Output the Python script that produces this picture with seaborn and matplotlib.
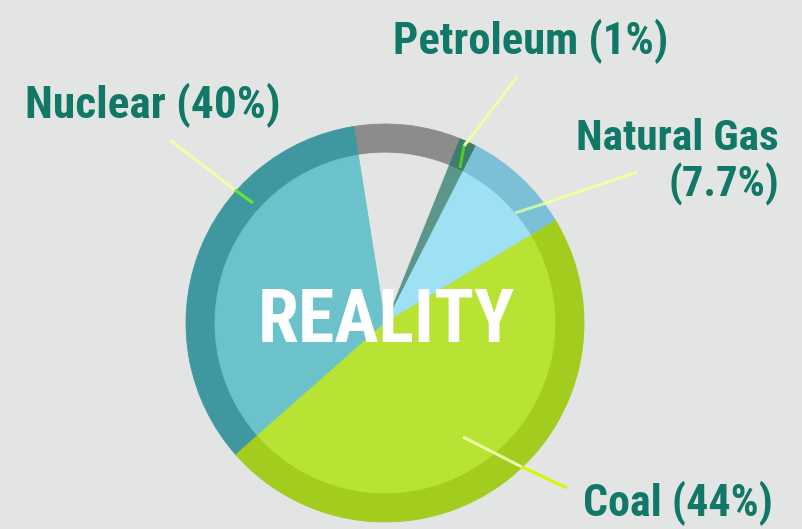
"""
Energy mix pie ("REALITY") - ring style pie with leader labels
"""
import matplotlib
matplotlib.use("Agg")
import matplotlib.pyplot as plt
from matplotlib import font_manager
import seaborn as sns

# ============================================================
#  Data (slice shares, counter-clockwise from 31 deg)
# ============================================================
sources = ["Natural Gas", "Petroleum", "Other", "Nuclear", "Coal"]
shares = [8.9, 1.4, 8.6, 34.0, 47.1]
label_pct = {"Natural Gas": "7.7%", "Petroleum": "1%", "Nuclear": "40%", "Coal": "44%"}

ring_colors = ["#7cc0d8", "#3e7c70", "#8c8c8c", "#3f97a0", "#a2cc1e"]
fill_colors = ["#9ee0f4", "#5c958a", "#e3e4e4", "#6cc2ca", "#b7e335"]

BG = "#e3e4e4"
TEXT = "#117868"
W, H = 802, 529
CX, CY, R_OUT, R_IN = 385, H - 323, 199, 170

sns.set_theme(style="white")
names = {f.name for f in font_manager.fontManager.ttflist}
FONT = next((f for f in ["Liberation Sans Narrow", "Roboto Condensed", "Roboto", "DejaVu Sans"]
             if f in names), "DejaVu Sans")
plt.rcParams["font.family"] = [FONT, "DejaVu Sans"]

fig = plt.figure(figsize=(W / 100, H / 100), dpi=100, facecolor=BG)
ax = fig.add_axes([0, 0, 1, 1])
ax.set_facecolor(BG)

# outer ring, then lighter inner pie on top
for radius, colors in [(R_OUT, ring_colors), (R_IN, fill_colors)]:
    wedges, _ = ax.pie(shares, colors=colors, startangle=31, counterclock=True,
                       center=(CX, CY), radius=radius, frame=True)
    for w in wedges:
        w.set_edgecolor(w.get_facecolor())
        w.set_linewidth(0.6)
ax.set_xlim(0, W)
ax.set_ylim(0, H)
ax.set_aspect("equal")
ax.axis("off")

# leader lines: (outer start, ring crossing, end, inner colour) in image pixels
leaders = [
    ((170, 140), (235, 190), (253, 203), "#5ee830"),
    ((517, 77), (464, 146), (460, 168), "#48d020"),
    ((637, 172), (543, 204), (515, 213), "#c6f3a8"),
    ((463, 437), (522, 467), (567, 488), "#d9f500"),
]
for p0, p1, p2, c in leaders:
    ax.plot([p0[0], p1[0]], [H - p0[1], H - p1[1]], color="#eeffa8", lw=2.2,
            solid_capstyle="butt", zorder=5)
    ax.plot([p1[0], p2[0]], [H - p1[1], H - p2[1]], color=c, lw=2.2,
            solid_capstyle="butt", zorder=5)

# labels: (text, x, baseline y, ha, target width px)
labels = [
    (f"Nuclear ({label_pct['Nuclear']})", 25, 118, "left", 255),
    (f"Petroleum ({label_pct['Petroleum']})", 393, 54, "left", 275),
    ("Natural Gas", 779, 150, "right", 202),
    (f"({label_pct['Natural Gas']})", 779, 197, "right", 111),
    (f"Coal ({label_pct['Coal']})", 583, 516, "left", 189),
]
texts = []
for s, x, y, ha, tw in labels:
    t = ax.text(x, H - y, s, ha=ha, va="baseline", color=TEXT, fontsize=29,
                fontweight="bold", zorder=6)
    texts.append((t, tw))
t = ax.text(386, H - 342, "REALITY", color="white", fontsize=52, fontweight="bold",
            ha="center", va="baseline", zorder=7)
texts.append((t, 257))

# squeeze font sizes so each text spans the same width as in the picture
fig.canvas.draw()
renderer = fig.canvas.get_renderer()
for t, tw in texts:
    w = t.get_window_extent(renderer).width
    t.set_fontsize(t.get_fontsize() * tw / w)

fig.savefig("out.png", dpi=100, facecolor=BG)
